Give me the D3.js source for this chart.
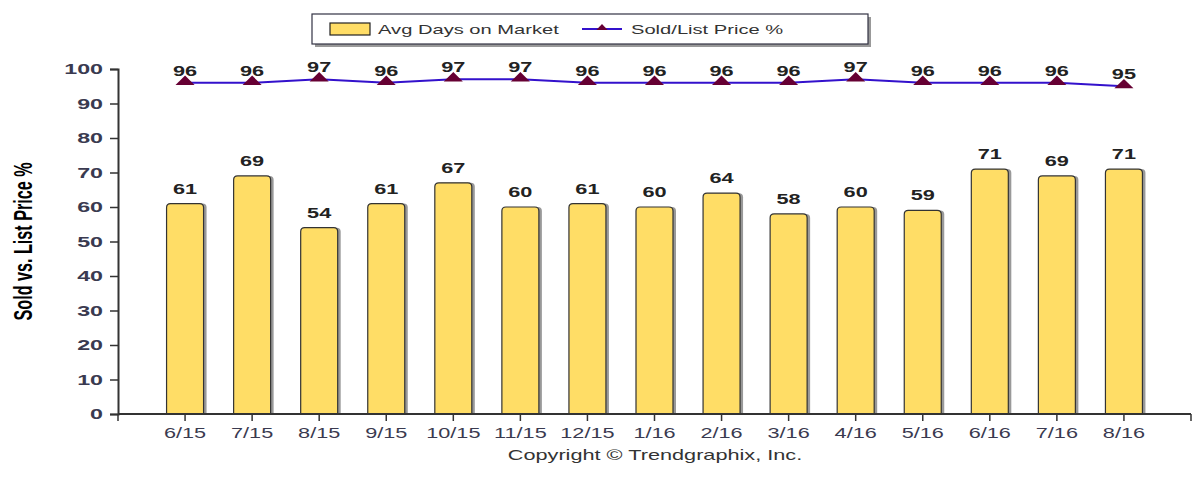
<!DOCTYPE html>
<html>
<head>
<meta charset="utf-8">
<script src="https://cdn.jsdelivr.net/npm/d3@7"></script>
<style>
  body { margin: 0; background: #fff; }
  text { font-family: Arial, "Liberation Sans", sans-serif; }
</style>
</head>
<body>
<div id="chart"></div>
<script>
const months = ["6/15","7/15","8/15","9/15","10/15","11/15","12/15","1/16","2/16","3/16","4/16","5/16","6/16","7/16","8/16"];
const avgDays = [61,69,54,61,67,60,61,60,64,58,60,59,71,69,71];
const soldList = [96,96,97,96,97,97,96,96,96,96,97,96,96,96,95];
const yTicks = [0,10,20,30,40,50,60,70,80,90,100];

const width = 1200, height = 482;
const margin = { top: 69, right: 9, bottom: 68, left: 118 };
// the original picture is stretched sideways; text is stretched the same way
const stretch = 1.55;

const svg = d3.select("#chart").append("svg")
    .attr("width", width)
    .attr("height", height);

const x = d3.scalePoint()
    .domain(months)
    .range([margin.left, width - margin.right])
    .padding(1);

const y = d3.scaleLinear()
    .domain([0, 100])
    .range([height - margin.bottom, margin.top]);

const barW = 37;
const axisColor = "#333";
const at = (px, py) => `translate(${px},${py}) scale(${stretch},1)`;

// y axis
const yAxis = svg.append("g")
    .attr("transform", `translate(${margin.left},0)`)
    .call(d3.axisLeft(y).tickValues(yTicks).tickSize(8).tickFormat(""));
yAxis.select(".domain").attr("stroke", axisColor).attr("stroke-width", 2);
yAxis.selectAll(".tick line").attr("stroke", axisColor).attr("stroke-width", 1.5);

svg.append("g").selectAll("text")
    .data(yTicks)
    .join("text")
    .attr("transform", d => at(margin.left - 15, y(d) + 5))
    .attr("text-anchor", "end")
    .attr("fill", "#3a3a50")
    .style("font-size", "15px")
    .style("font-weight", "bold")
    .text(d => d);

// y axis title
svg.append("text")
    .attr("transform", `translate(32,${(y(0) + y(100)) / 2}) rotate(-90) scale(1,${stretch})`)
    .attr("text-anchor", "middle")
    .attr("textLength", 158)
    .attr("lengthAdjust", "spacingAndGlyphs")
    .style("font-size", "17px")
    .style("font-weight", "bold")
    .attr("fill", "#000")
    .text("Sold vs. List Price %");

// bars: shadow then bar
const barPath = (cx, v) => {
    const x0 = cx - barW / 2, x1 = cx + barW / 2, yt = y(v), yb = y(0), r = 4;
    return `M${x0},${yb}V${yt + r}Q${x0},${yt} ${x0 + r},${yt}H${x1 - r}Q${x1},${yt} ${x1},${yt + r}V${yb}Z`;
};

svg.append("g").selectAll("path")
    .data(avgDays)
    .join("path")
    .attr("d", (d, i) => barPath(x(months[i]) + 3, d))
    .attr("fill", "#999");

svg.append("g").selectAll("path")
    .data(avgDays)
    .join("path")
    .attr("d", (d, i) => barPath(x(months[i]), d))
    .attr("fill", "#FFDD66")
    .attr("stroke", "#333")
    .attr("stroke-width", 1.2);

svg.append("g").selectAll("text")
    .data(avgDays)
    .join("text")
    .attr("transform", (d, i) => at(x(months[i]), y(d) - 10))
    .attr("text-anchor", "middle")
    .style("font-size", "14px")
    .style("font-weight", "bold")
    .attr("fill", "#222")
    .text(d => d);

// x axis
const xAxisG = svg.append("g").attr("transform", `translate(0,${y(0)})`);
xAxisG.append("line")
    .attr("x1", margin.left).attr("x2", width - margin.right)
    .attr("stroke", axisColor).attr("stroke-width", 2);
xAxisG.selectAll("line.end")
    .data(x.range())
    .join("line")
    .attr("class", "end")
    .attr("x1", d => d).attr("x2", d => d)
    .attr("y1", 0).attr("y2", 7)
    .attr("stroke", axisColor).attr("stroke-width", 1.5);
xAxisG.selectAll("line.tick")
    .data(months)
    .join("line")
    .attr("class", "tick")
    .attr("x1", d => x(d)).attr("x2", d => x(d))
    .attr("y1", 0).attr("y2", 7)
    .attr("stroke", axisColor).attr("stroke-width", 1.5);
xAxisG.selectAll("text")
    .data(months)
    .join("text")
    .attr("transform", d => at(x(d), 24))
    .attr("text-anchor", "middle")
    .style("font-size", "14px")
    .attr("fill", "#3a3a50")
    .text(d => d);

// line
const line = d3.line()
    .x((d, i) => x(months[i]))
    .y(d => y(d));

svg.append("path")
    .datum(soldList)
    .attr("d", line)
    .attr("fill", "none")
    .attr("stroke", "#3311cc")
    .attr("stroke-width", 2);

const tri = d3.symbol().type(d3.symbolTriangle).size(70);
svg.append("g").selectAll("path")
    .data(soldList)
    .join("path")
    .attr("transform", (d, i) => `translate(${x(months[i])},${y(d) - 1}) scale(1.5,0.85)`)
    .attr("d", tri)
    .attr("fill", "#660033");

svg.append("g").selectAll("text")
    .data(soldList)
    .join("text")
    .attr("transform", (d, i) => at(x(months[i]), y(d) - 7))
    .attr("text-anchor", "middle")
    .style("font-size", "14px")
    .style("font-weight", "bold")
    .attr("fill", "#222")
    .text(d => d);

// legend
const legend = svg.append("g").attr("transform", "translate(312,14)");
legend.append("rect")
    .attr("x", 3).attr("y", 3).attr("width", 556).attr("height", 30)
    .attr("fill", "#999");
legend.append("rect")
    .attr("width", 556).attr("height", 30)
    .attr("fill", "#fff").attr("stroke", "#334").attr("stroke-width", 1.2);
legend.append("rect")
    .attr("x", 18).attr("y", 9).attr("width", 40).attr("height", 12)
    .attr("fill", "#FFDD66").attr("stroke", "#222").attr("stroke-width", 1.2);
legend.append("text")
    .attr("transform", at(66, 20))
    .style("font-size", "13px").attr("fill", "#333")
    .text("Avg Days on Market");
legend.append("line")
    .attr("x1", 270).attr("x2", 310).attr("y1", 15).attr("y2", 15)
    .attr("stroke", "#3311cc").attr("stroke-width", 2);
legend.append("path")
    .attr("transform", "translate(290,14) scale(1.5,0.9)")
    .attr("d", d3.symbol().type(d3.symbolTriangle).size(25))
    .attr("fill", "#660033");
legend.append("text")
    .attr("transform", at(319, 20))
    .style("font-size", "13px").attr("fill", "#333")
    .text("Sold/List Price %");

// copyright
svg.append("text")
    .attr("transform", at(655, 460))
    .attr("text-anchor", "middle")
    .style("font-size", "14px")
    .attr("fill", "#333")
    .text("Copyright \u00A9 Trendgraphix, Inc.");
</script>
</body>
</html>
